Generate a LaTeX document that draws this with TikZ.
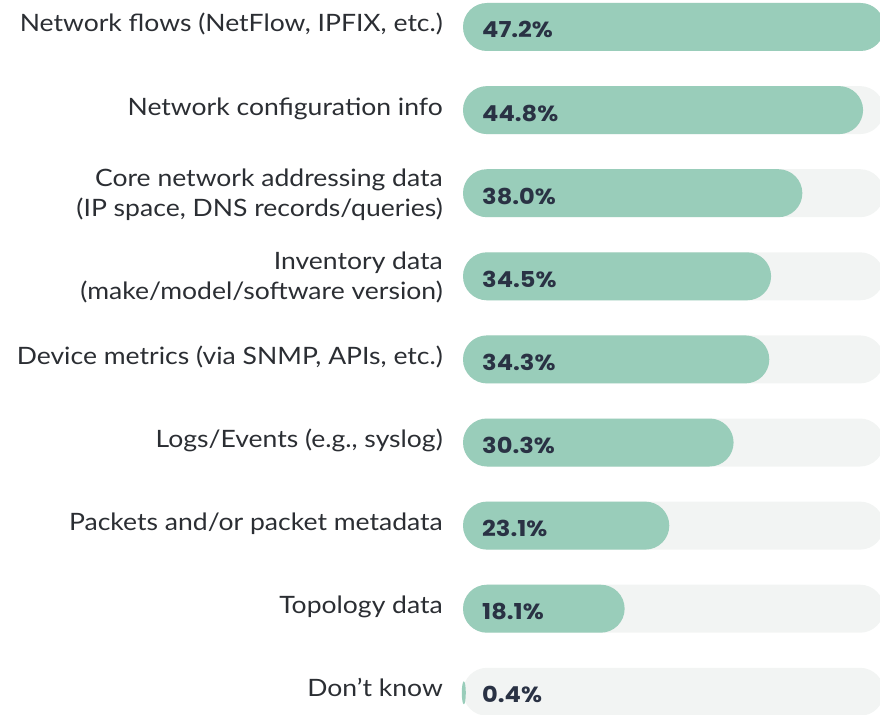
\documentclass[tikz,border=0pt]{standalone}
\usepackage{fontspec}
\setmainfont{Lato}[FakeStretch=1.11]
\newfontfamily\pctfont{Poppins}[FakeStretch=1.1]
\definecolor{barfill}{HTML}{99CDBA}
\definecolor{trackfill}{HTML}{F2F4F3}
\definecolor{labeltext}{HTML}{2B2E33}
\definecolor{pcttext}{HTML}{2A3244}

\begin{document}
\begin{tikzpicture}[x=1bp,y=-1bp,
  labeltxt/.style={anchor=base east, inner sep=0pt, text=labeltext,
    font=\fontsize{24}{30}\selectfont},
  pcttxt/.style={anchor=base west, inner sep=0pt, text=pcttext,
    font=\pctfont\bfseries\fontsize{22}{26}\selectfont},
  trackbar/.style={fill=trackfill, rounded corners=24bp},
  valuebar/.style={fill=barfill, rounded corners=24bp}]
\useasboundingbox (0,0) rectangle (880,715);
\clip (0,0) rectangle (880,715);

% row index / value / first line / second line
\foreach \i/\v/\la/\lb in {
  1/47.2/{Network flows (NetFlow, IPFIX, etc.)}/{},
  2/44.8/{Network configuration info}/{},
  3/38.0/{Core network addressing data}/{(IP space, DNS records/queries)},
  4/34.5/{Inventory data}/{(make/model/software version)},
  5/34.3/{Device metrics (via SNMP, APIs, etc.)}/{},
  6/30.3/{Logs/Events (e.g., syslog)}/{},
  7/23.1/{Packets and/or packet metadata}/{},
  8/18.1/{Topology data}/{},
  9/0.4/{Don’t know}/{}} {
  \pgfmathsetmacro{\c}{27+83.1*(\i-1)}
  \pgfmathsetmacro{\w}{8.93*\v}
  % background track
  \path[trackbar] (463,\c-24) rectangle (884,\c+24);
  % value bar
  \ifdim\w pt<10pt
    \fill[barfill] (463.8,\c+1) ellipse [x radius=2, y radius=11.5];
  \else
    \path[valuebar] (463,\c-24) rectangle (463+\w,\c+24);
  \fi
  \node[pcttxt] (pct\i) at (482,\c+11) {\v\%};
  \if\relax\detokenize\expandafter{\lb}\relax
    \node[labeltxt] (lab\i) at (443,\c+5) {\la};
  \else
    \node[labeltxt] (lab\i) at (443,\c-6.5) {\la};
    \node[labeltxt] (lab\i b) at (443,\c+23.5) {\lb};
  \fi
}
\end{tikzpicture}
\end{document}
